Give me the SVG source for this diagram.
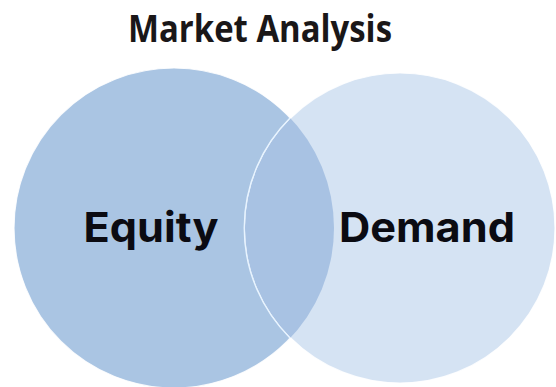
<svg xmlns="http://www.w3.org/2000/svg" width="556" height="387" viewBox="0 0 556 387">
<style>
.title{font-family:"Open Sans","Noto Sans",sans-serif;font-weight:700;font-size:38px;fill:#1a1718}
.lbl{font-family:Inter,"Liberation Sans",sans-serif;font-weight:700;font-size:41px;fill:#0b0b12}
.edge{stroke:#ffffff;stroke-width:1.2;stroke-opacity:0.85}
</style>
<defs>
<clipPath id="clipL"><circle cx="174" cy="228" r="160"/></clipPath>
</defs>
<rect width="556" height="387" fill="#ffffff"/>
<text class="title" x="260" y="42" text-anchor="middle" textLength="264" lengthAdjust="spacingAndGlyphs">Market Analysis</text>
<g id="equity">
<circle cx="174" cy="228" r="160" fill="#aac5e3" class="edge"/>
</g>
<g id="demand">
<circle cx="400" cy="228" r="155" fill="#d5e3f3" class="edge"/>
</g>
<g id="overlap">
<circle cx="400" cy="228" r="155" fill="#a8c2e3" clip-path="url(#clipL)"/>
<path d="M 290 118 A 155 155 0 0 0 290 338" fill="none" stroke="#e8f4ff" stroke-width="1.3"/>
</g>
<text class="lbl" x="151" y="242" text-anchor="middle" textLength="135" lengthAdjust="spacingAndGlyphs">Equity</text>
<text class="lbl" x="427" y="242" text-anchor="middle" textLength="176" lengthAdjust="spacingAndGlyphs">Demand</text>
<g id="connectors"/>
</svg>
